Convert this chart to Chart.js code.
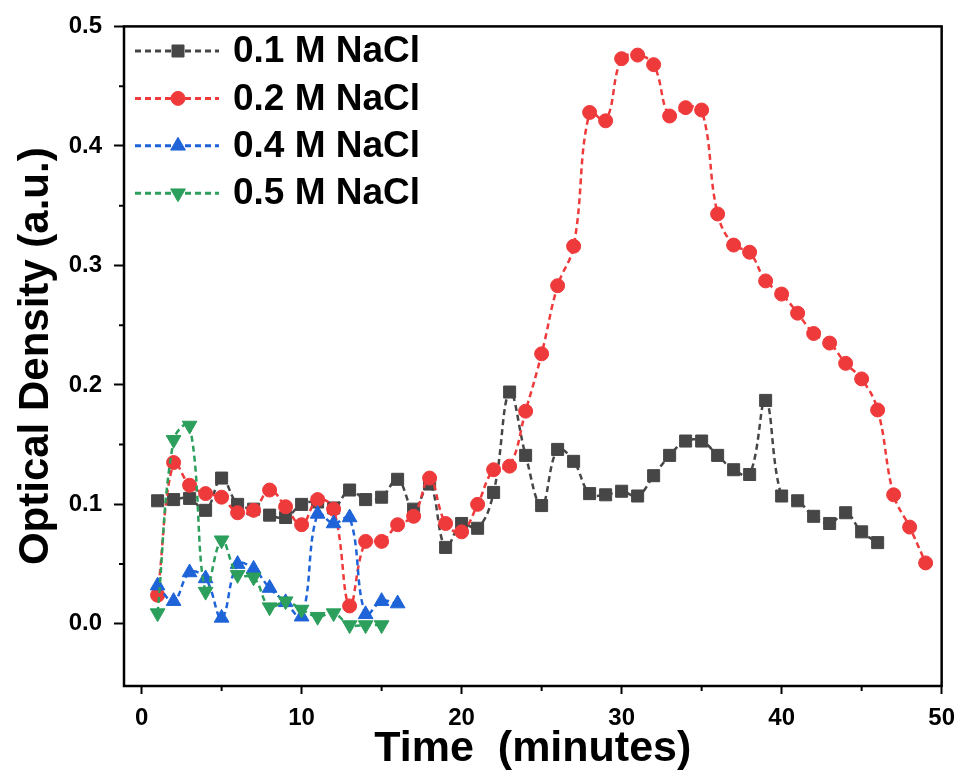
<!DOCTYPE html>
<html>
<head>
<meta charset="utf-8">
<script src="https://cdn.jsdelivr.net/npm/chart.js@4.4.0/dist/chart.umd.min.js"></script>
<style>
  body { margin: 0; background: #fff; }
  canvas { display: block; }
</style>
</head>
<body>
<canvas id="myChart" width="965" height="778"></canvas>
<script>
// time points (minutes)
var minutes = [1, 2, 3, 4, 5, 6, 7, 8, 9, 10, 11, 12, 13, 14, 15, 16, 17, 18, 19, 20,
  21, 22, 23, 24, 25, 26, 27, 28, 29, 30, 31, 32, 33, 34, 35, 36, 37, 38, 39, 40,
  41, 42, 43, 44, 45, 46, 47, 48, 49];

var seriesNames = ['0.1 M NaCl', '0.2 M NaCl', '0.4 M NaCl', '0.5 M NaCl'];

var od01 = [0.103, 0.104, 0.105, 0.095, 0.122, 0.100, 0.096, 0.091, 0.089, 0.100,
  0.102, 0.097, 0.112, 0.104, 0.106, 0.121, 0.096, 0.117, 0.064, 0.084,
  0.080, 0.110, 0.194, 0.141, 0.099, 0.146, 0.136, 0.109, 0.108, 0.111,
  0.107, 0.124, 0.141, 0.153, 0.153, 0.141, 0.129, 0.125, 0.187, 0.107,
  0.103, 0.090, 0.084, 0.093, 0.077, 0.068];

var od02 = [0.024, 0.135, 0.116, 0.109, 0.106, 0.093, 0.095, 0.112, 0.098, 0.083,
  0.104, 0.096, 0.015, 0.069, 0.069, 0.083, 0.090, 0.122, 0.084, 0.077,
  0.100, 0.129, 0.132, 0.178, 0.226, 0.283, 0.316, 0.428, 0.421, 0.473,
  0.476, 0.468, 0.425, 0.432, 0.430, 0.343, 0.317, 0.311, 0.287, 0.276,
  0.260, 0.243, 0.235, 0.218, 0.205, 0.179, 0.108, 0.081, 0.051];

var od04 = [0.032, 0.019, 0.043, 0.038, 0.005, 0.050, 0.046, 0.030, 0.018, 0.006,
  0.092, 0.084, 0.089, 0.008, 0.019, 0.017];

var od05 = [0.009, 0.154, 0.166, 0.027, 0.070, 0.041, 0.039, 0.014, 0.019, 0.012,
  0.006, 0.009, -0.001, -0.001, -0.001];

var colors = ['#464646', '#ef3a3c', '#1e63d8', '#2b9f5b'];
var markers = [
  { style: 'rect', radius: 8.5, rotation: 0 },
  { style: 'circle', radius: 7, rotation: 0 },
  { style: 'triangle', radius: 8.5, rotation: 0 },
  { style: 'triangle', radius: 8.5, rotation: 180 }
];

Chart.defaults.font.family = "'Liberation Sans', Arial, sans-serif";
Chart.defaults.color = '#000';

function toPoints(values) {
  return values.map((v, i) => ({ x: minutes[i], y: v }));
}

function makeSet(i, values) {
  return {
    label: seriesNames[i],
    data: toPoints(values),
    borderColor: colors[i],
    backgroundColor: colors[i],
    borderWidth: 2.5,
    borderDash: [6, 4],
    tension: 0.4,
    pointStyle: markers[i].style,
    pointRadius: markers[i].radius,
    rotation: markers[i].rotation,
    pointBorderWidth: 1,
    pointBorderColor: colors[i],
    pointBackgroundColor: colors[i],
    order: 4 - i
  };
}

function isMajor(v, step) {
  var q = v / step;
  return Math.abs(q - Math.round(q)) < 1e-6;
}

// frame on 4 sides + short minor ticks
var framePlugin = {
  id: 'frame',
  afterDatasetsDraw(chart) {
    var ctx = chart.ctx, a = chart.chartArea;
    var xs = chart.scales.x, ys = chart.scales.y;
    ctx.save();
    ctx.strokeStyle = '#000';
    ctx.lineWidth = 2.5;
    ctx.strokeRect(a.left, a.top, a.right - a.left, a.bottom - a.top);
    ctx.lineWidth = 2;
    ctx.beginPath();
    ys.ticks.forEach(t => {
      if (t.value < 0 || isMajor(t.value, 0.1)) return;
      var py = ys.getPixelForValue(t.value);
      ctx.moveTo(a.left - 5, py);
      ctx.lineTo(a.left, py);
    });
    xs.ticks.forEach(t => {
      if (isMajor(t.value, 10)) return;
      var px = xs.getPixelForValue(t.value);
      ctx.moveTo(px, a.bottom);
      ctx.lineTo(px, a.bottom + 5);
    });
    ctx.stroke();
    ctx.restore();
  }
};

// legend drawn inside the plot, line + marker + text
var legendPlugin = {
  id: 'innerLegend',
  afterDraw(chart) {
    var ctx = chart.ctx;
    var x0 = 135, x1 = 219, xm = 178, tx = 233, y0 = 51, dy = 47.4;
    ctx.save();
    chart.data.datasets.forEach((ds, i) => {
      var y = y0 + i * dy;
      ctx.strokeStyle = ds.borderColor;
      ctx.lineWidth = 3;
      ctx.setLineDash([6, 4]);
      ctx.beginPath();
      ctx.moveTo(x0, y);
      ctx.lineTo(x1, y);
      ctx.stroke();
      ctx.setLineDash([]);
      ctx.fillStyle = ds.backgroundColor;
      ctx.strokeStyle = ds.borderColor;
      ctx.lineWidth = 1;
      Chart.helpers.drawPoint(ctx, {
        pointStyle: ds.pointStyle, radius: ds.pointRadius,
        rotation: ds.rotation, borderWidth: 1
      }, xm, y);
      ctx.fillStyle = '#000';
      ctx.font = "bold 37px 'Liberation Sans', Arial, sans-serif";
      ctx.textBaseline = 'middle';
      ctx.textAlign = 'left';
      ctx.fillText(ds.label, tx, y + 1);
    });
    ctx.restore();
  }
};

var ctx = document.getElementById('myChart').getContext('2d');
var myChart = new Chart(ctx, {
  type: 'line',
  data: {
    datasets: [makeSet(0, od01), makeSet(1, od02), makeSet(2, od04), makeSet(3, od05)]
  },
  options: {
    responsive: false,
    animation: false,
    events: [],
    layout: { padding: { top: 23, right: 19, left: 0, bottom: 0 } },
    plugins: { legend: { display: false }, tooltip: { enabled: false } },
    scales: {
      x: {
        type: 'linear',
        min: -1.1,
        max: 50,
        border: { display: false },
        grid: {
          drawOnChartArea: false,
          tickLength: 8,
          tickWidth: 2,
          tickColor: (c) => (c.tick && isMajor(c.tick.value, 10) ? '#000' : 'rgba(0,0,0,0)')
        },
        ticks: {
          stepSize: 5,
          includeBounds: false,
          autoSkip: false,
          maxRotation: 0,
          padding: 10,
          font: { size: 24, weight: 'bold' },
          callback: (v) => (isMajor(v, 10) ? String(Math.round(v)) : '')
        },
        title: {
          display: true,
          text: 'Time  (minutes)',
          font: { size: 43, weight: 'bold', lineHeight: 1.2 },
          padding: 3
        },
        afterFit: (s) => { s.height = 92; }
      },
      y: {
        min: -0.052,
        max: 0.5,
        border: { display: false },
        grid: {
          drawOnChartArea: false,
          tickLength: 10,
          tickWidth: 2,
          tickColor: (c) => (c.tick && c.tick.value >= 0 && isMajor(c.tick.value, 0.1) ? '#000' : 'rgba(0,0,0,0)')
        },
        ticks: {
          stepSize: 0.05,
          includeBounds: false,
          autoSkip: false,
          padding: 12,
          font: { size: 24, weight: 'bold' },
          callback: (v) => (v >= 0 && isMajor(v, 0.1) ? v.toFixed(1) : '')
        },
        title: {
          display: true,
          text: 'Optical Density (a.u.)',
          font: { size: 42, weight: 'bold', lineHeight: 1.2 },
          padding: 11
        },
        afterFit: (s) => { s.width = 124; }
      }
    }
  },
  plugins: [framePlugin, legendPlugin]
});
</script>
</body>
</html>
